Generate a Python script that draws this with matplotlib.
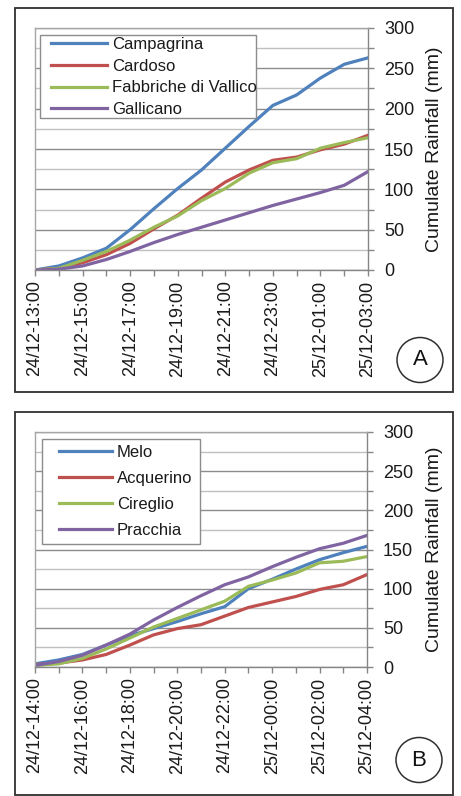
import matplotlib
matplotlib.use("Agg")
import matplotlib.pyplot as plt
from matplotlib.patches import Rectangle, Ellipse
from matplotlib.ticker import MultipleLocator
import numpy as np

plt.rcParams['font.family'] = ['Liberation Sans', 'DejaVu Sans']

W, H = 461, 796

COLORS = ['#4F81BD', '#C0504D', '#9BBB59', '#8064A2']

# panel A: hourly cumulate rainfall, 24/12 13:00 -> 25/12 03:00
times_a = ['24/12-13:00', '24/12-14:00', '24/12-15:00', '24/12-16:00', '24/12-17:00',
           '24/12-18:00', '24/12-19:00', '24/12-20:00', '24/12-21:00', '24/12-22:00',
           '24/12-23:00', '25/12-00:00', '25/12-01:00', '25/12-02:00', '25/12-03:00']
names_a = ['Campagrina', 'Cardoso', 'Fabbriche di Vallico', 'Gallicano']
campagrina = [0, 5, 15, 27, 50, 76, 101, 124, 151, 178, 204, 217, 238, 255, 263]
cardoso = [0, 2, 9, 19, 33, 51, 68, 89, 109, 124, 136, 140, 149, 156, 167]
fabbriche = [0, 2, 12, 23, 37, 53, 67, 86, 101, 120, 133, 138, 151, 158, 164]
gallicano = [0, 1, 5, 13, 23, 34, 44, 53, 62, 71, 80, 88, 96, 105, 122]

# panel B: hourly cumulate rainfall, 24/12 14:00 -> 25/12 04:00
times_b = ['24/12-14:00', '24/12-15:00', '24/12-16:00', '24/12-17:00', '24/12-18:00',
           '24/12-19:00', '24/12-20:00', '24/12-21:00', '24/12-22:00', '24/12-23:00',
           '25/12-00:00', '25/12-01:00', '25/12-02:00', '25/12-03:00', '25/12-04:00']
names_b = ['Melo', 'Acquerino', 'Cireglio', 'Pracchia']
melo = [4, 9, 16, 28, 40, 49, 58, 68, 77, 100, 112, 125, 137, 146, 154]
acquerino = [3, 5, 9, 16, 28, 41, 49, 54, 65, 76, 83, 90, 99, 105, 118]
cireglio = [2, 4, 11, 23, 37, 51, 62, 73, 84, 103, 111, 120, 133, 135, 141]
pracchia = [2, 7, 15, 28, 42, 60, 76, 91, 105, 115, 128, 140, 151, 158, 168]


def px_axes(fig, left, top, right, bottom):
    return fig.add_axes([left / W, 1 - bottom / H, (right - left) / W, (bottom - top) / H])


def draw_panel(ax, series, names, labels):
    x = np.arange(len(labels))
    for vals, name, color in zip(series, names, COLORS):
        ax.plot(x, vals, color=color, lw=2.3, label=name)
    ax.set_xlim(0, len(labels) - 1)
    ax.set_ylim(0, 300)
    ax.set_xticks(x[::2])
    ax.set_xticklabels(labels[::2], rotation=90)
    ax.set_xticks(x[1::2], minor=True)
    ax.yaxis.tick_right()
    ax.yaxis.set_major_locator(MultipleLocator(50))
    ax.yaxis.set_minor_locator(MultipleLocator(25))
    ax.set_axisbelow(True)
    ax.grid(axis='y', which='major', color='#8c8c8c', lw=1.0)
    ax.grid(axis='y', which='minor', color='#c0c0c0', lw=1.0)
    ax.tick_params(which='both', direction='out', length=4.5, width=1.0,
                   color='#868686', labelsize=13, labelcolor='#1a1a1a')
    ax.tick_params(axis='x', pad=3)
    ax.tick_params(axis='y', pad=7)
    for side in ['left', 'top']:
        ax.spines[side].set_color('#a6a6a6')
    for side in ['right', 'bottom']:
        ax.spines[side].set_color('#868686')
    for sp in ax.spines.values():
        sp.set_linewidth(1.0)
    ax.set_ylabel('Cumulate Rainfall (mm)', fontsize=14, color='#1a1a1a')
    ax.yaxis.set_label_position('right')


def legend_box(fig, ax, box, handle_x, first_row, spacing, hlen):
    x0, y0, x1, y1 = box
    ax.add_patch(Rectangle((x0 / W, 1 - y1 / H), (x1 - x0) / W, (y1 - y0) / H,
                           transform=fig.transFigure, facecolor='white',
                           edgecolor='#8c8c8c', lw=1.0, zorder=4, clip_on=False))
    leg = ax.legend(loc='upper left', frameon=False, fontsize=12, borderpad=0,
                    borderaxespad=0, handlelength=hlen, handletextpad=0.3,
                    labelspacing=spacing,
                    bbox_to_anchor=(handle_x / W, 1 - first_row / H),
                    bbox_transform=fig.transFigure)
    leg.set_zorder(6)
    for t in leg.get_texts():
        t.set_color('#1a1a1a')


def panel_frame(fig, box, letter, center):
    x0, y0, x1, y1 = box
    fig.add_artist(Rectangle((x0 / W, 1 - y1 / H), (x1 - x0) / W, (y1 - y0) / H,
                             transform=fig.transFigure, facecolor='none',
                             edgecolor='#303030', lw=1.3))
    cx, cy = center
    fig.add_artist(Ellipse((cx / W, 1 - cy / H), 46 / W, 45 / H,
                           transform=fig.transFigure, facecolor='none',
                           edgecolor='#303030', lw=1.1))
    fig.text(cx / W, 1 - cy / H, letter, ha='center', va='center',
             fontsize=16, color='#111111')


fig = plt.figure(figsize=(W / 100, H / 100), dpi=100)

ax_a = px_axes(fig, 35, 28, 368, 270)
draw_panel(ax_a, [campagrina, cardoso, fabbriche, gallicano], names_a, times_a)
ax_a.yaxis.set_label_coords((426 - 35) / 333, 0.5)
legend_box(fig, ax_a, (40, 35, 256, 118), 51, 37, 0.4, 3.36)
panel_frame(fig, (15, 8, 453, 392), 'A', (420, 360))

ax_b = px_axes(fig, 35, 432, 367, 667)
draw_panel(ax_b, [melo, acquerino, cireglio, pracchia], names_b, times_b)
ax_b.yaxis.set_label_coords((426 - 35) / 332, 0.5)
legend_box(fig, ax_b, (42, 439, 200, 544), 59, 445, 0.66, 3.18)
panel_frame(fig, (15, 412, 453, 795), 'B', (419, 760))

fig.savefig('out.png', dpi=100)
